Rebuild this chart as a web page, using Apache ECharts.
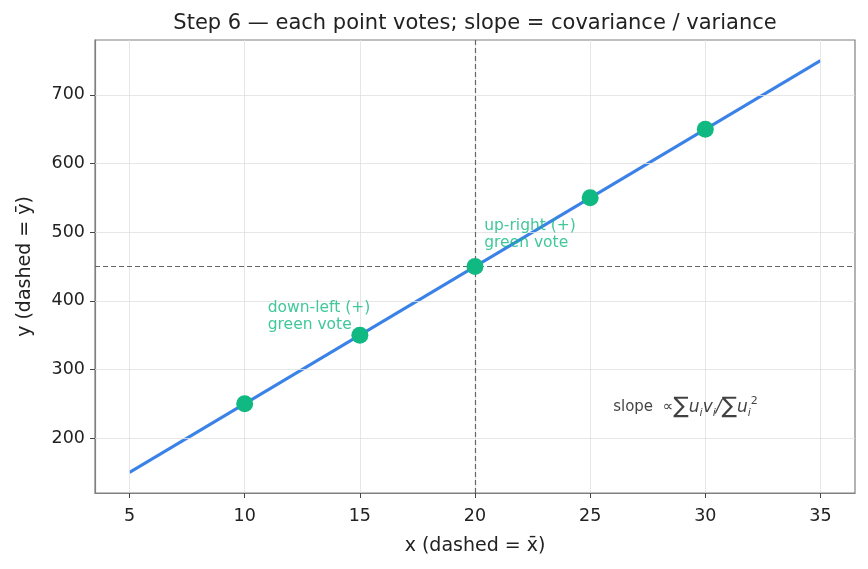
<!DOCTYPE html>
<html>
<head>
<meta charset="utf-8">
<script src="https://cdn.jsdelivr.net/npm/echarts@6/dist/echarts.min.js"></script>
</head>
<body style="margin:0;background:#fff">
<div id="main" style="width:868px;height:569px;"></div>
<script type="text/javascript">
    // data
    var xTicks = [5, 10, 15, 20, 25, 30, 35];
    var yTicks = [200, 300, 400, 500, 600, 700];
    var fitLine = [[5, 150], [35, 750]];
    var pointsX = [10, 15, 20, 25, 30];
    var pointsY = [250, 350, 450, 550, 650];
    var meanX = 20;
    var meanY = 450;
    var notes = [
        { at: [11.0, 352], text: 'down-left (+)\ngreen vote' },
        { at: [20.4, 472], text: 'up-right (+)\ngreen vote' }
    ];
    var formulaAt = [26.0, 245];

    var font = 'DejaVu Sans';
    var green = '#10b981';
    var blue = '#3b82e8';

    var points = pointsX.map(function (x, i) { return [x, pointsY[i]]; });

    // grid lines drawn as markLines so they sit on the tick values
    var gridLines = [];
    xTicks.forEach(function (v) { gridLines.push({ xAxis: v }); });
    yTicks.forEach(function (v) { gridLines.push({ yAxis: v }); });

    var myChart = echarts.init(document.getElementById('main'));
    var option = {
        animation: false,
        textStyle: { fontFamily: font },
        title: {
            text: 'Step 6 — each point votes; slope = covariance / variance',
            left: 470,
            textAlign: 'center',
            top: 8,
            textStyle: { fontFamily: font, fontSize: 21, fontWeight: 'normal', color: '#222' }
        },
        grid: {
            left: 95, right: 13, top: 40, bottom: 76,
            show: true, borderColor: '#808080', borderWidth: 1.2
        },
        xAxis: {
            type: 'value', min: 3.5, max: 36.5,
            name: 'x (dashed = x\u0304)',
            nameLocation: 'middle', nameGap: 44,
            nameTextStyle: { fontFamily: font, fontSize: 19, color: '#222' },
            axisLine: { lineStyle: { color: '#808080', width: 1.2 } },
            axisTick: { show: true, length: 5, customValues: xTicks, lineStyle: { color: '#444' } },
            axisLabel: { customValues: xTicks, fontSize: 17.5, color: '#222', margin: 14 },
            splitLine: { show: false }
        },
        yAxis: {
            type: 'value', min: 120, max: 780,
            name: 'y (dashed = y\u0304)',
            nameLocation: 'middle', nameGap: 60, nameRotate: 90,
            nameTextStyle: { fontFamily: font, fontSize: 19, color: '#222' },
            axisLine: { show: true, lineStyle: { color: '#808080', width: 1.2 } },
            axisTick: { show: true, length: 5, customValues: yTicks, lineStyle: { color: '#444' } },
            axisLabel: { customValues: yTicks, fontSize: 17.5, color: '#222', margin: 10 },
            splitLine: { show: false }
        },
        series: [
            {
                type: 'line', data: [], silent: true,
                markLine: {
                    silent: true, symbol: 'none', label: { show: false },
                    lineStyle: { color: '#e0e0e0', width: 0.8, type: 'solid' },
                    data: gridLines
                }
            },
            {
                type: 'line', data: [], silent: true, z: 3,
                markLine: {
                    silent: true, symbol: 'none', label: { show: false },
                    lineStyle: { color: '#666', width: 1.2, type: [5, 3] },
                    data: [{ xAxis: meanX }, { yAxis: meanY }]
                }
            },
            {
                type: 'line', data: fitLine, showSymbol: false, z: 4,
                lineStyle: { color: blue, width: 3 }
            },
            {
                type: 'scatter', data: points, symbolSize: 17, z: 5,
                itemStyle: { color: green, opacity: 1 }
            },
            {
                type: 'scatter', symbolSize: 0, z: 6, silent: true,
                data: notes.map(function (n) {
                    return { value: n.at, label: { formatter: n.text } };
                }),
                label: {
                    show: true, position: [0, 0], align: 'left', verticalAlign: 'bottom',
                    fontFamily: font, fontSize: 15.5, lineHeight: 17, color: green
                }
            },
            {
                type: 'scatter', symbolSize: 0, z: 6, silent: true,
                data: [formulaAt],
                label: {
                    show: true, position: [0, 0], align: 'left', verticalAlign: 'middle',
                    formatter: '{a|slope  ∝}{s|∑}{u|u}{i|i}{u|v}{i|i}{u|/}{s|∑}{u|u}{i|i}{p|2}',
                    rich: {
                        a: { fontFamily: font, fontSize: 15, color: '#111' },
                        s: { fontFamily: font, fontSize: 23, color: '#111' },
                        u: { fontFamily: font, fontSize: 17, fontStyle: 'italic', color: '#111' },
                        i: { fontFamily: font, fontSize: 11, fontStyle: 'italic', color: '#111', verticalAlign: 'bottom', padding: [7, 0, 0, 0] },
                        p: { fontFamily: font, fontSize: 11, color: '#111', verticalAlign: 'top', padding: [0, 0, 10, 0] }
                    }
                }
            }
        ]
    };
    myChart.setOption(option);
</script>
</body>
</html>
